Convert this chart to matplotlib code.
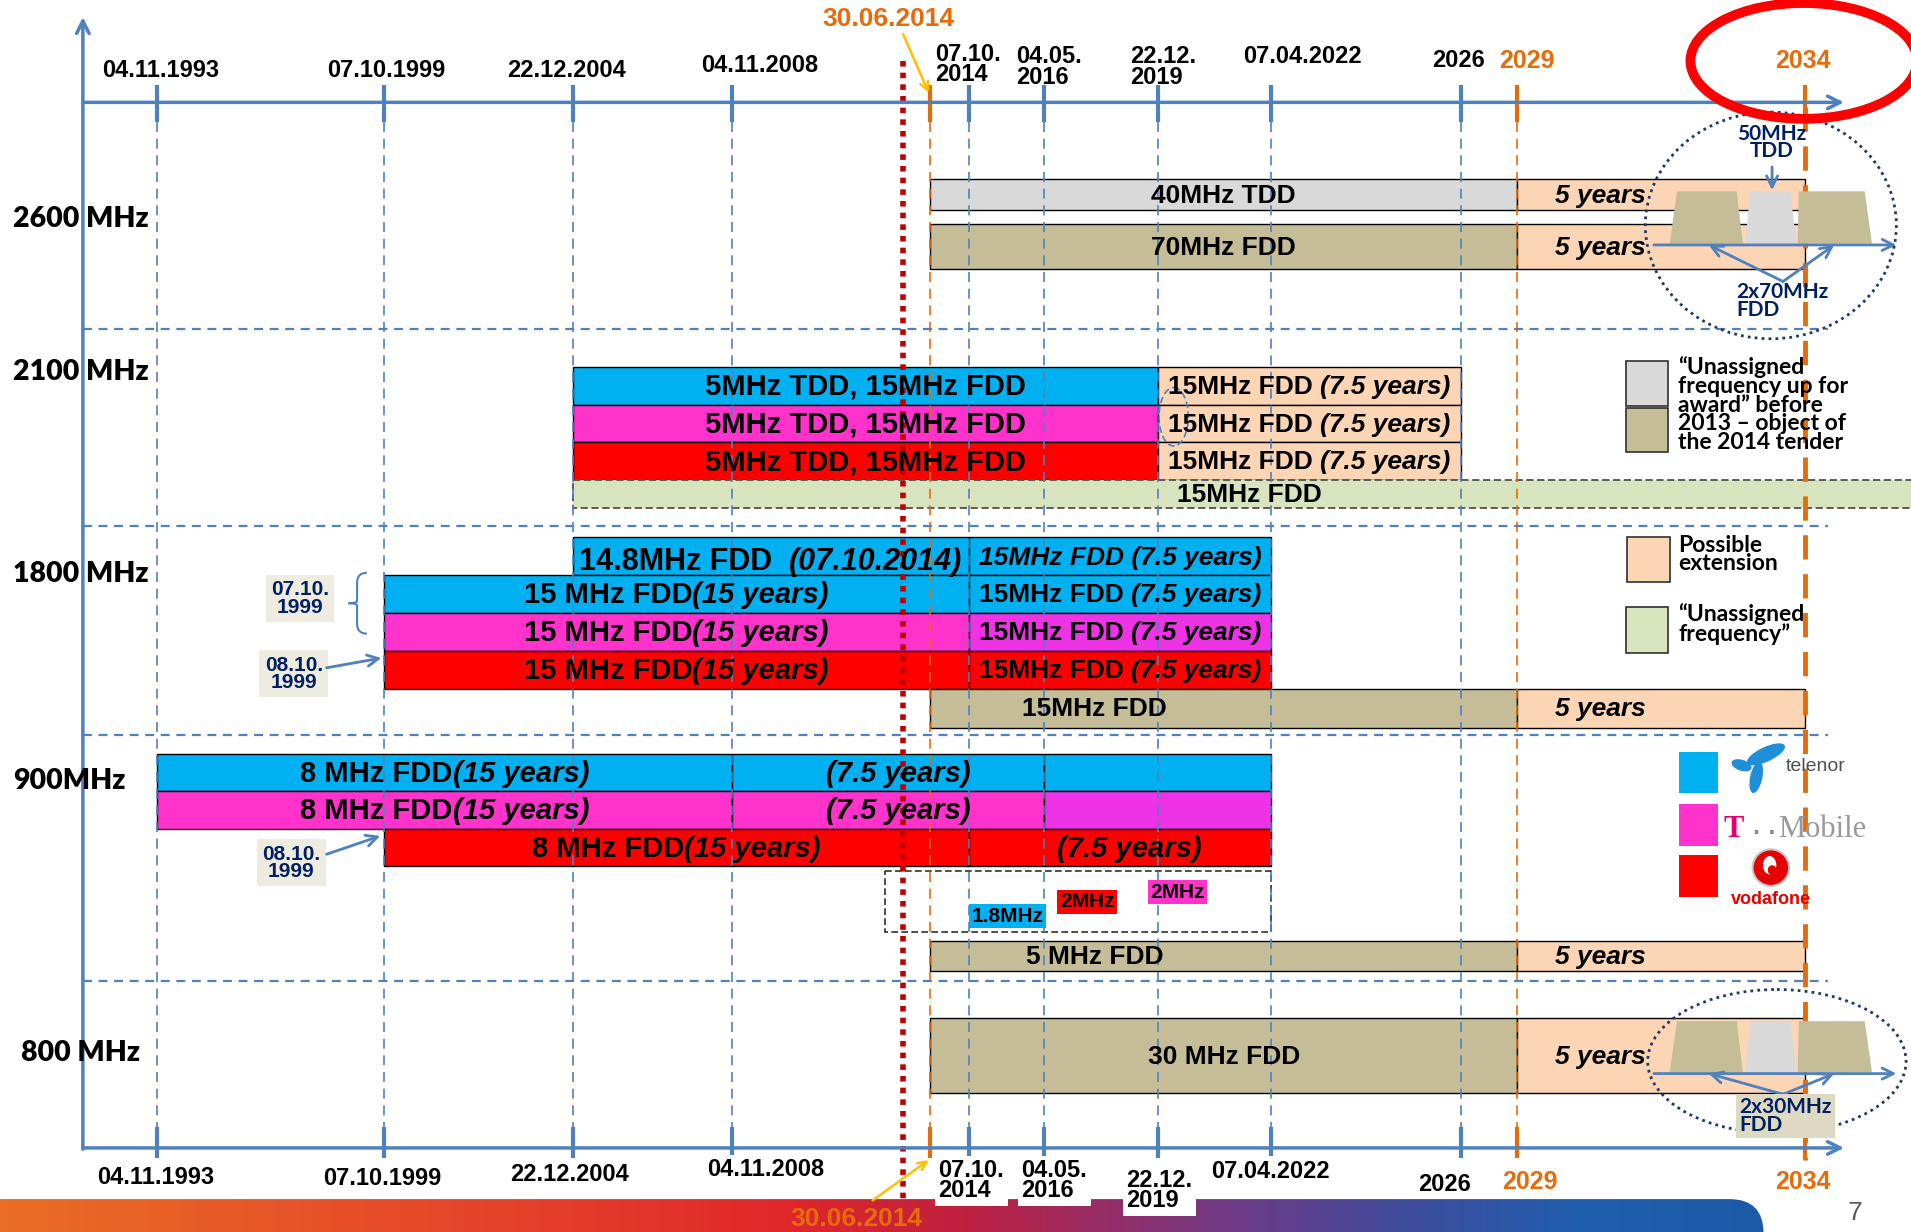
import matplotlib
matplotlib.use("Agg")
import numpy as np
import matplotlib.pyplot as plt
from matplotlib.patches import Rectangle, Ellipse, Polygon, FancyBboxPatch
from matplotlib.path import Path
from matplotlib.patches import PathPatch
from matplotlib.colors import LinearSegmentedColormap

# ---------------- data ----------------
DATE_KEYS = ["04.11.1993", "07.10.1999", "22.12.2004", "04.11.2008", "30.06.2014",
             "07.10.2014", "04.05.2016", "22.12.2019", "07.04.2022", "2026", "2029", "2034"]
DATE_SHOWN = ["04.11.1993", "07.10.1999", "22.12.2004", "04.11.2008", "",
              "07.10.\n2014", "04.05.\n2016", "22.12.\n2019", "07.04.2022", "2026", "2029", "2034"]
ORANGE_DATES = ["30.06.2014", "2029", "2034"]

BANDS = ["2600 MHz", "2100 MHz", "1800 MHz", "900MHz", "800 MHz"]

BAR_LANE = ["2600_tdd", "2600_tdd", "2600_fdd", "2600_fdd",
            "2100_a", "2100_a", "2100_b", "2100_b", "2100_c", "2100_c", "2100_free",
            "1800_top", "1800_top", "1800_a", "1800_a", "1800_b", "1800_b", "1800_c", "1800_c",
            "1800_new", "1800_new",
            "900_a", "900_a", "900_a", "900_b", "900_b", "900_b", "900_c", "900_c",
            "900_new", "900_new", "800_new", "800_new"]
BAR_START = ["30.06.2014", "2029", "30.06.2014", "2029",
             "22.12.2004", "22.12.2019", "22.12.2004", "22.12.2019", "22.12.2004", "22.12.2019", "22.12.2004",
             "22.12.2004", "07.10.2014", "07.10.1999", "07.10.2014", "07.10.1999", "07.10.2014",
             "07.10.1999", "07.10.2014", "30.06.2014", "2029",
             "04.11.1993", "04.11.2008", "04.05.2016", "04.11.1993", "04.11.2008", "04.05.2016",
             "07.10.1999", "07.10.2014", "30.06.2014", "2029", "30.06.2014", "2029"]
BAR_END = ["2029", "2034", "2029", "2034",
           "22.12.2019", "2026", "22.12.2019", "2026", "22.12.2019", "2026", "edge",
           "07.10.2014", "07.04.2022", "07.10.2014", "07.04.2022", "07.10.2014", "07.04.2022",
           "07.10.2014", "07.04.2022", "2029", "2034",
           "04.11.2008", "04.05.2016", "07.04.2022", "04.11.2008", "04.05.2016", "07.04.2022",
           "07.10.2014", "07.04.2022", "2029", "2034", "2029", "2034"]
BAR_COLOR = ["grey", "peach", "tan", "peach",
             "blue", "peach", "magenta", "peach", "red", "peach", "green",
             "blue", "blue", "blue", "blue", "magenta", "magenta2", "red", "red", "tan", "peach",
             "blue", "blue", "blue", "magenta", "magenta", "magenta2", "red", "red",
             "tan", "peach", "tan", "peach"]
# text between underscores is italic
BAR_TEXT = ["40MHz TDD", "_5 years_", "70MHz FDD", "_5 years_",
            "5MHz TDD, 15MHz FDD", "15MHz FDD _(7.5 years)_", "5MHz TDD, 15MHz FDD",
            "15MHz FDD _(7.5 years)_", "5MHz TDD, 15MHz FDD", "15MHz FDD _(7.5 years)_", "15MHz FDD",
            "14.8MHz FDD  _(07.10.2014)_", "_15MHz FDD (7.5 years)_",
            "15 MHz FDD_(15 years)_", "15MHz FDD _(7.5 years)_",
            "15 MHz FDD_(15 years)_", "15MHz FDD _(7.5 years)_",
            "15 MHz FDD_(15 years)_", "15MHz FDD _(7.5 years)_",
            "15MHz FDD", "_5 years_",
            "8 MHz FDD_(15 years)_", "_(7.5 years)_", "", "8 MHz FDD_(15 years)_", "_(7.5 years)_", "",
            "8 MHz FDD_(15 years)_", "_(7.5 years)_",
            "5 MHz FDD", "_5 years_", "30 MHz FDD", "_5 years_"]

SMALL_BLOCKS = ["1.8MHz", "2MHz", "2MHz"]
SMALL_COLORS = ["blue", "red", "magenta"]

LEGEND_TEXT = ["\u201cUnassigned\nfrequency up for\naward\u201d before\n2013 \u2013 object of\nthe 2014 tender",
               "Possible\nextension", "\u201cUnassigned\nfrequency\u201d"]
OPERATORS = ["telenor", "Mobile", "vodafone"]
OPERATOR_COLORS = ["blue", "magenta", "red"]

# ---------------- layout / style ----------------
TIMELINE_X = [129, 315, 470, 601, 763, 795, 857, 950, 1043, 1199, 1245, 1481]
TODAY_X = 741
EDGE_X = 1580
LANES = {"2600_tdd": (147, 172), "2600_fdd": (184, 221),
         "2100_a": (301, 332), "2100_b": (332, 363), "2100_c": (363, 394), "2100_free": (394, 417),
         "1800_top": (441, 472), "1800_a": (472, 503), "1800_b": (503, 534), "1800_c": (534, 565),
         "1800_new": (565, 597),
         "900_a": (619, 649), "900_b": (649, 680), "900_c": (680, 711), "900_new": (772, 797),
         "800_new": (835, 897)}
BAND_Y = [180, 305, 471, 641, 864]
BAND_X = [66, 66, 66, 57, 66]
SEPARATORS_Y = [270, 432, 603, 805]

COLORS = {"blue": "#00b0f0", "magenta": "#ff33cc", "magenta2": "#ee33e6", "red": "#ff0000",
          "tan": "#c4bd97", "grey": "#d9d9d9", "peach": "#fcd5b5", "green": "#d7e4bd"}
AXIS = "#4f81bd"
ORANGE = "#e46c0a"
NAVY = "#002060"
BEIGE = "#eeece1"
SANS = "Liberation Sans"
CAL = "Lato"

fig = plt.figure(figsize=(19.11, 12.32), dpi=100)
ax = fig.add_axes([0, 0, 1, 1])
ax.set_xlim(0, 1568)
ax.set_ylim(1011, 0)
ax.axis("off")
renderer = fig.canvas.get_renderer()
PX = 1568 / 1911


def X(key):
    if key == "edge":
        return EDGE_X
    return TIMELINE_X[DATE_KEYS.index(key)]


def rich(x, y, label, size, color="black", family=SANS, zorder=6):
    # draw mixed normal / italic bold text centred on x
    pieces = label.split("_")
    space = 0.278 * size * 100 / 72
    texts, offs = [], []
    cur, gap = 0.0, 0
    for i, piece in enumerate(pieces):
        core = piece.strip(" ")
        if not core:
            gap += len(piece)
            continue
        gap += len(piece) - len(piece.lstrip(" "))
        if texts:
            cur += gap * space
        t = ax.text(0, y, core, fontsize=size, fontweight="bold",
                    fontstyle="italic" if i % 2 else "normal", family=family,
                    color=color, ha="left", va="center", zorder=zorder)
        offs.append(cur)
        cur += t.get_window_extent(renderer).width
        gap = len(piece) - len(piece.rstrip(" "))
        texts.append(t)
    start = x - cur * PX / 2
    for t, o in zip(texts, offs):
        t.set_x(start + o * PX)


# ---- bars ----
for lane, s, e, col, lab in zip(BAR_LANE, BAR_START, BAR_END, BAR_COLOR, BAR_TEXT):
    y0, y1 = LANES[lane]
    x0, x1 = X(s), X(e)
    if col == "green":
        ax.add_patch(Rectangle((x0, y0), x1 - x0, y1 - y0, facecolor=COLORS[col],
                               edgecolor="#505050", lw=1.3, ls=(0, (4, 2)), zorder=2))
    else:
        ax.add_patch(Rectangle((x0, y0), x1 - x0, y1 - y0, facecolor=COLORS[col],
                               edgecolor="black", lw=1.0, zorder=2))
    if not lab:
        continue
    frac = 0.5
    size = 21
    if col in ("peach", "tan", "grey", "green") or s == "07.10.2014" and lane.startswith("1800"):
        size = 19
    if lab == "_5 years_":
        frac = 0.29
    if col == "tan" and lane in ("1800_new", "900_new"):
        frac = 0.28
    if lab == "_(7.5 years)_":
        frac = 0.53
    dy = 1
    if lab.startswith("14.8"):
        size, dy = 22, 5
    rich(x0 + frac * (x1 - x0), (y0 + y1) / 2 + dy, lab, size)

# small 900 MHz blocks
ax.add_patch(Rectangle((726, 715), 1043 - 726, 50, fill=False, ec="#303030", lw=1.2,
                       ls=(0, (4, 2)), zorder=2))
for lab, col, (bx, by) in zip(SMALL_BLOCKS, SMALL_COLORS, [(827, 752), (892, 740), (966, 732)]):
    ax.text(bx, by, lab, fontsize=15, fontweight="bold", family=SANS, ha="center", va="center",
            zorder=6, bbox=dict(boxstyle="square,pad=0.12", fc=COLORS[col], ec="none"))

# ---- grid / timeline ----
for key, x in zip(DATE_KEYS, TIMELINE_X):
    orange = key in ORANGE_DATES
    c = ORANGE if orange else AXIS
    if key == "2034":
        ax.plot([x, x], [88, 952], color=ORANGE, lw=3.5, ls=(0, (5, 3)), zorder=4)
    else:
        ax.plot([x, x], [100, 925], color=c, lw=1.2, ls=(0, (6, 4)), zorder=3)
    ax.plot([x, x], [70, 100], color=c, lw=3, zorder=4, solid_capstyle="butt")
    ax.plot([x, x], [925, 950], color=c, lw=3, zorder=4, solid_capstyle="butt")

ax.plot([TODAY_X, TODAY_X], [50, 985], color="#c00000", lw=4, ls=(0, (1, 1.1)), zorder=4)

for y in SEPARATORS_Y:
    ax.plot([68, 1500], [y, y], color=AXIS, lw=1.6, ls=(0, (4, 3)), zorder=3)

arrow = dict(arrowstyle="->,head_length=0.9,head_width=0.45", lw=2.5, color=AXIS,
             shrinkA=0, shrinkB=0)
ax.annotate("", xy=(1513, 84), xytext=(68, 84), arrowprops=arrow, zorder=5)
ax.annotate("", xy=(1513, 942), xytext=(68, 942), arrowprops=arrow, zorder=5)
ax.annotate("", xy=(68, 14), xytext=(68, 943), arrowprops=arrow, zorder=5)

# ---- date labels ----
TOP_POS = [(132, 58, "center"), (317, 58, "center"), (465, 58, "center"), (623, 54, "center"), None,
           (767, 53, "left"), (834, 55, "left"), (927, 55, "left"), (1069, 46, "center"),
           (1197, 50, "center"), (1253, 50, "center"), (1479, 50, "center")]
BOT_POS = [(128, 966, "center"), (314, 967, "center"), (467, 964, "center"), (628, 960, "center"), None,
           (770, 969, "left"), (838, 969, "left"), (924, 977, "left"), (1042, 961, "center"),
           (1185, 972, "center"), (1255, 970, "center"), (1479, 970, "center")]
for i, (key, shown) in enumerate(zip(DATE_KEYS, DATE_SHOWN)):
    if not shown:
        continue
    orange = key in ORANGE_DATES
    c = ORANGE if orange else "black"
    fs = 18 if orange else 17
    x, y, ha = TOP_POS[i]
    ax.text(x, y, shown, fontsize=fs, fontweight="bold", family=SANS, color=c, ha=ha,
            va="center", linespacing=0.85, zorder=7)
    x, y, ha = BOT_POS[i]
    box = None
    if i in (3, 5, 6, 7, 8):
        box = dict(boxstyle="square,pad=0.15", fc="white", ec="none")
    ax.text(x, y, shown, fontsize=fs, fontweight="bold", family=SANS, color=c, ha=ha,
            va="center", linespacing=0.85, zorder=7, bbox=box)

yellow = dict(arrowstyle="->,head_length=0.6,head_width=0.3", lw=1.8, color="#ffc000",
              shrinkA=0, shrinkB=0)
ax.text(729, 16, "30.06.2014", fontsize=19, fontweight="bold", family=SANS, color=ORANGE,
        ha="center", va="center", zorder=7)
ax.annotate("", xy=(762, 76), xytext=(741, 28), arrowprops=yellow, zorder=7)
ax.text(703, 1000, "30.06.2014", fontsize=19, fontweight="bold", family=SANS, color=ORANGE,
        ha="center", va="center", zorder=7)
ax.annotate("", xy=(762, 952), xytext=(716, 985), arrowprops=yellow, zorder=7)

# ---- band labels ----
for lab, x, y in zip(BANDS, BAND_X, BAND_Y):
    ax.text(x, y, lab, fontsize=20.5, fontweight="heavy", family=CAL, ha="center", va="center",
            zorder=7)

# ---- licence date notes ----
for txt, (x, y) in zip(["07.10.\n1999", "08.10.\n1999", "08.10.\n1999"],
                       [(246, 491), (241, 553), (239, 708)]):
    ax.text(x, y, txt, fontsize=15, fontweight="bold", family=SANS, color=NAVY, ha="center",
            va="center", linespacing=0.9, zorder=7,
            bbox=dict(boxstyle="square,pad=0.25", fc=BEIGE, ec="none"))
blue_arrow = dict(arrowstyle="->,head_length=0.8,head_width=0.4", lw=2, color=AXIS,
                  shrinkA=0, shrinkB=0)
ax.annotate("", xy=(313, 540), xytext=(268, 548), arrowprops=blue_arrow, zorder=7)
ax.annotate("", xy=(312, 686), xytext=(268, 701), arrowprops=blue_arrow, zorder=7)
brace = Path([(301, 470), (293, 470), (293, 478), (293, 493), (293, 495), (286, 495),
              (293, 495), (293, 497), (293, 512), (293, 520), (301, 520)],
             [Path.MOVETO, Path.CURVE3, Path.CURVE3, Path.LINETO, Path.CURVE3, Path.CURVE3,
              Path.CURVE3, Path.CURVE3, Path.LINETO, Path.CURVE3, Path.CURVE3])
ax.add_patch(PathPatch(brace, fill=False, ec=AXIS, lw=1.5, zorder=7))
ax.add_patch(Ellipse((963, 342), 24, 48, fill=False, ec=AXIS, lw=1.2, ls=(0, (4, 2)), zorder=5))

# ---- legend ----
ax.add_patch(Rectangle((1334, 296), 35, 37, fc=COLORS["grey"], ec="#303030", lw=1.2, zorder=5))
ax.add_patch(Rectangle((1334, 335), 35, 36, fc=COLORS["tan"], ec="#303030", lw=1.2, zorder=5))
ax.add_patch(Rectangle((1335, 441), 35, 37, fc=COLORS["peach"], ec="#303030", lw=1.2, zorder=5))
ax.add_patch(Rectangle((1334, 498), 35, 38, fc=COLORS["green"], ec="#303030", lw=1.2, zorder=5))
for txt, y in zip(LEGEND_TEXT, [332, 455, 512]):
    ax.text(1377, y, txt, fontsize=16.5, fontweight="bold", family=CAL, ha="left", va="center",
            linespacing=0.86, zorder=7)

# ---- operators ----
for op, col, y in zip(OPERATORS, OPERATOR_COLORS, [617, 660, 702]):
    ax.add_patch(Rectangle((1378, y), 32, 34, fc=COLORS[col], ec="none", zorder=5))
tel = "#1e8fd8"
ax.add_patch(Ellipse((1449, 619), 34, 12, angle=-25, fc=tel, ec="none", zorder=6))
ax.add_patch(Ellipse((1441, 638), 10, 26, angle=12, fc=tel, ec="none", zorder=6))
ax.add_patch(Ellipse((1429, 628), 17, 9, angle=18, fc=tel, ec="none", zorder=6))
ax.text(1465, 629, "telenor", fontsize=14, family=SANS, color="#505050", ha="left", va="center",
        zorder=7)
ax.text(1414, 681, "T", fontsize=22, fontweight="bold", family="Liberation Serif", color="#e20074",
        ha="left", va="center", zorder=7)
ax.text(1438, 684, "\u00b7 \u00b7", fontsize=18, fontweight="bold", family=SANS, color="#8a8a8a",
        ha="left", va="center", zorder=7)
ax.text(1459, 681, "Mobile", fontsize=22, family="Liberation Serif", color="#999999", ha="left",
        va="center", zorder=7)
ax.add_patch(Ellipse((1453, 712), 30, 30, fc="#e60000", ec="#c8c8c8", lw=1.5, zorder=6))
ax.add_patch(Ellipse((1452, 710), 11, 15, fc="white", ec="none", zorder=7))
ax.add_patch(Ellipse((1454, 714), 7, 8, fc="#e60000", ec="none", zorder=8))
ax.text(1453, 738, "vodafone", fontsize=13, fontweight="bold", family=SANS, color="#e60000",
        ha="center", va="center", zorder=7)

# ---- spectrum sketches ----
TRAPS = [((1370, 1430, 1376, 1425), "tan"), ((1432, 1474, 1436, 1469), "grey"),
         ((1475, 1536, 1476, 1530), "tan")]
for top, base in [(157, 200), (838, 880)]:
    for (bl, br, tl, tr), col in TRAPS:
        ax.add_patch(Polygon([(bl, base), (br, base), (tr, top), (tl, top)], closed=True,
                             fc=COLORS[col], ec="none", zorder=5))
    ax.annotate("", xy=(1556, base + 1), xytext=(1357, base + 1), arrowprops=blue_arrow, zorder=6)
    apex = base + 31 if top < 500 else base + 18
    ax.annotate("", xy=(1402, base + 1), xytext=(1463, apex), arrowprops=blue_arrow, zorder=6)
    ax.annotate("", xy=(1505, base + 1), xytext=(1463, apex), arrowprops=blue_arrow, zorder=6)

ax.add_patch(Ellipse((1453, 185), 206, 186, fill=False, ec="#1f3864", lw=2, ls=(0, (1, 1.5)), zorder=6))
ax.add_patch(Ellipse((1458, 871), 212, 118, fill=False, ec="#1f3864", lw=2, ls=(0, (1, 1.5)), zorder=6))
ax.text(1454, 117, "50MHz\nTDD", fontsize=15, fontweight="bold", family=CAL, color=NAVY,
        ha="center", va="center", linespacing=0.85, zorder=7)
ax.annotate("", xy=(1454, 156), xytext=(1454, 137), arrowprops=blue_arrow, zorder=7)
ax.text(1425, 247, "2x70MHz\nFDD", fontsize=15, fontweight="bold", family=CAL, color=NAVY,
        ha="left", va="center", linespacing=0.85, zorder=7)
ax.text(1427, 916, "2x30MHz\nFDD", fontsize=15, fontweight="bold", family=CAL, color=NAVY,
        ha="left", va="center", linespacing=0.85, zorder=7,
        bbox=dict(boxstyle="square,pad=0.15", fc="#ddd9c3", ec="none"))

ax.add_patch(Ellipse((1480, 50), 186, 95, fill=False, ec="#ff0000", lw=7, zorder=6))

# ---- footer band ----
stops = [(0.0, "#ea6d25"), (0.3, "#e4402a"), (0.45, "#e0262a"), (0.55, "#bd2040"),
         (0.62, "#9a2c64"), (0.7, "#6e3a86"), (0.8, "#3f4c9c"), (0.9, "#1f5fae"), (1.0, "#1d5aa6")]
cmap = LinearSegmentedColormap.from_list("footer", stops)
im = ax.imshow(np.linspace(0, 1, 400)[None, :], cmap=cmap, aspect="auto",
               extent=[0, 1447, 1011, 984], zorder=1)
clip = FancyBboxPatch((-60, 984), 1507, 80, boxstyle="round,pad=0,rounding_size=28",
                      transform=ax.transData, fc="none", ec="none")
ax.add_patch(clip)
im.set_clip_path(clip)
ax.text(1522, 995, "7", fontsize=19, family=SANS, color="#595959", ha="center", va="center")
ax.set_xlim(0, 1568)
ax.set_ylim(1011, 0)

fig.savefig("out.png", dpi=100)
